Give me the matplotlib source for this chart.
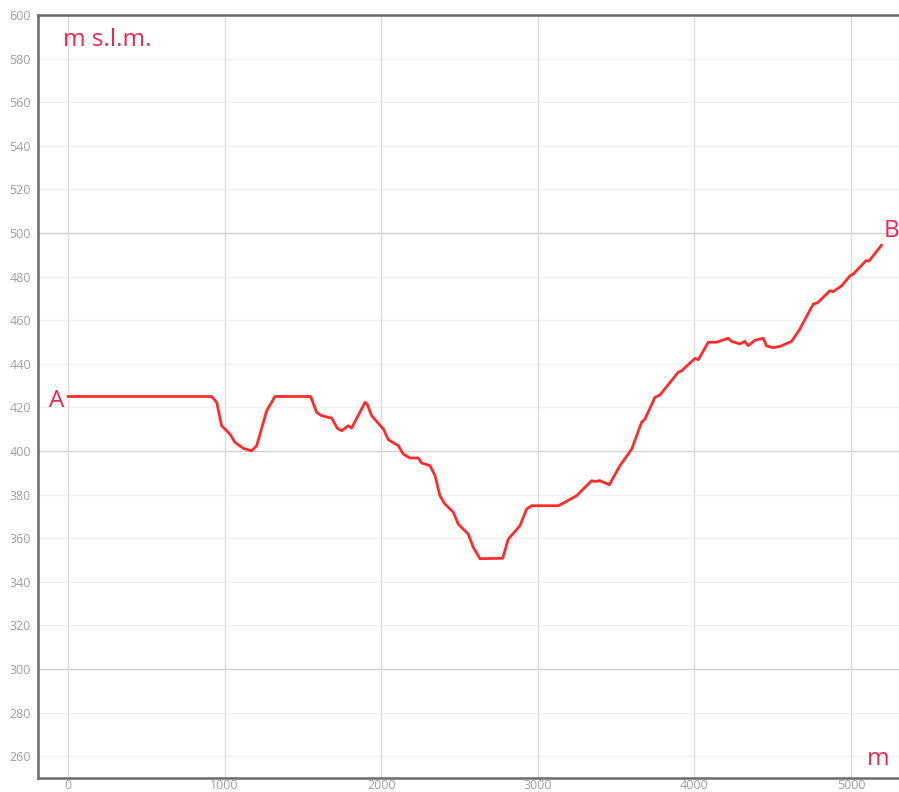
import matplotlib
matplotlib.use("Agg")
import matplotlib.pyplot as plt

# Profile data (distance in m, elevation in m s.l.m.)
dist = [0, 917, 950, 981, 1034, 1066, 1120, 1173, 1205, 1269, 1322, 1550, 1588, 1620,
        1684, 1720, 1748, 1790, 1811, 1897, 1911, 1939, 2014, 2046, 2110, 2141, 2184,
        2237, 2258, 2312, 2344, 2375, 2407, 2461, 2492, 2556, 2588, 2631, 2776, 2812,
        2886, 2929, 2961, 3131, 3174, 3248, 3344, 3365, 3397, 3457, 3525, 3600, 3663,
        3685, 3748, 3780, 3897, 3919, 4004, 4025, 4089, 4142, 4216, 4238, 4291, 4323,
        4344, 4387, 4440, 4461, 4504, 4547, 4621, 4674, 4759, 4785, 4866, 4887, 4941,
        4994, 5015, 5096, 5117, 5196]
elev = [425, 425, 422.3, 411.6, 407.8, 404, 401.2, 400.1, 402.4, 418.5, 425, 425, 417.7, 416.2,
        415.1, 410.4, 409.3, 411.6, 410.5, 422.3, 421.5, 416.2, 410.1, 405.2, 402.4, 398.6, 396.8,
        396.8, 394.5, 393.3, 388.7, 379.5, 375.7, 371.9, 366.5, 361.9, 355.8, 350.6, 350.8, 359.6,
        365.7, 373.4, 374.9, 374.9, 376.5, 379.5, 386.4, 386, 386.4, 384.5, 393.3, 400.9, 413.2,
        414.7, 424.6, 425.7, 436.1, 436.8, 442.5, 441.9, 449.9, 449.9, 451.7, 450.3, 449.1, 450.3,
        448.3, 450.8, 451.7, 448.2, 447.4, 448, 450.3, 456, 467.4, 467.9, 473.5, 473.1, 475.8,
        480.4, 481.2, 487.3, 487.3, 494.5]

x_ticks = [0, 1000, 2000, 3000, 4000, 5000]
y_ticks = list(range(260, 601, 20))

red = "#ff2a2a"
label_red = "#f0264f"
tick_gray = "#a0a0a0"

fig = plt.figure(figsize=(8.99, 7.92), dpi=100)
ax = fig.add_axes([38/899, 14/792, 1 - 38/899, 763/792])
ax.set_xlim(-191.6, 5306.5)
ax.set_ylim(250, 600)

# grid
for yv in y_ticks:
    ax.axhline(yv, color="#d0d0d0" if yv % 100 == 0 else "#f0f0f0", lw=1.0, zorder=0)
for xv in x_ticks:
    ax.axvline(xv, color="#dcdcdc", lw=1.0, zorder=0)

ax.plot(dist, elev, color=red, lw=2.0, solid_joinstyle="round", solid_capstyle="round", zorder=3)

ax.set_xticks(x_ticks)
ax.set_yticks(y_ticks)
ax.tick_params(length=0, labelsize=9, labelcolor=tick_gray, pad=5)
for lab in ax.get_xticklabels() + ax.get_yticklabels():
    lab.set_family("Open Sans")
ax.tick_params(axis="x", pad=1)

for side in ["left", "top", "bottom"]:
    ax.spines[side].set_color("#6a6a6a")
    ax.spines[side].set_linewidth(1.8)
ax.spines["right"].set_visible(False)

ax.text(-30, 588.5, "m s.l.m.", color=label_red, fontsize=17.5, family="Open Sans",
        ha="left", va="center")
ax.text(5100, 258.5, "m", color=label_red, fontsize=17.5, family="Open Sans",
        ha="left", va="center")
ax.text(-70, 423, "A", color=label_red, fontsize=17.5, family="Open Sans",
        ha="center", va="center")
ax.text(5260, 501, "B", color=label_red, fontsize=17.5, family="Open Sans",
        ha="center", va="center")

fig.savefig("out.png", dpi=100)
